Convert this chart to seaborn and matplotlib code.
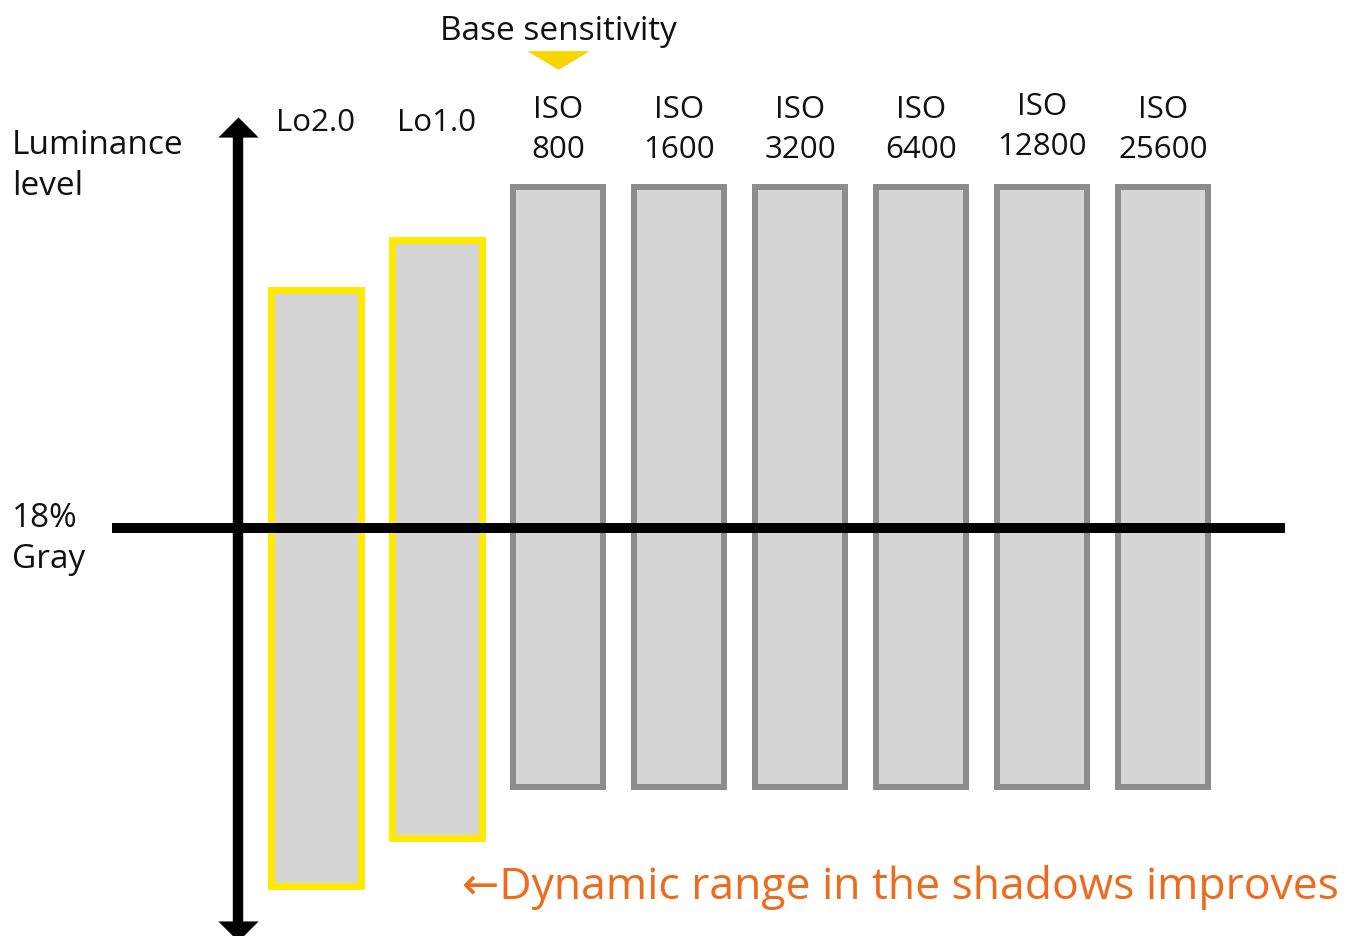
import pandas as pd
import matplotlib.pyplot as plt
import matplotlib.transforms as mtransforms
import seaborn as sns

# Sensitivity settings and the luminance range each one covers
# (0 = 18% gray, arbitrary units)
settings = ["Lo2.0", "Lo1.0", "ISO\n800", "ISO\n1600", "ISO\n3200",
            "ISO\n6400", "ISO\n12800", "ISO\n25600"]
range_top = [2.38, 2.88, 3.41, 3.41, 3.41, 3.41, 3.41, 3.41]
range_bottom = [-3.58, -3.10, -2.59, -2.59, -2.59, -2.59, -2.59, -2.59]
extended = [True, True, False, False, False, False, False, False]
base_setting = "ISO\n800"

df = pd.DataFrame({"setting": settings, "top": range_top,
                   "bottom": range_bottom, "extended": extended})

sns.set_style("white")
plt.rcParams["font.family"] = ["Open Sans", "DejaVu Sans"]

FILL = "#d6d6d6"
EDGE_GRAY = "#8c8c8c"
EDGE_YELLOW = "#ffea00"
MARK_YELLOW = "#f7d600"
ORANGE = "#ee6a1c"
INK = "#111111"

fig = plt.figure(figsize=(13.62, 9.37), dpi=100)
ax = fig.add_axes([0, 0, 1, 1])

# upper and lower part of every range, split at the 18% gray line
sns.barplot(data=df, x="setting", y="top", color=FILL, saturation=1,
            width=0.74, linewidth=5, ax=ax)
sns.barplot(data=df, x="setting", y="bottom", color=FILL, saturation=1,
            width=0.74, linewidth=5, ax=ax)
n = len(df)
for i, patch in enumerate(ax.patches):
    ext = df["extended"].iloc[i % n]
    patch.set_edgecolor(EDGE_YELLOW if ext else EDGE_GRAY)
    patch.set_linewidth(5.0 if ext else 4.3)
    patch.set_joinstyle("miter")

ax.set_xlim(-316 / 121, (1362 - 316) / 121)
ax.set_ylim(-4.08, 5.29)
ax.set_axis_off()

# 18% gray reference line
ax.axhline(0, xmin=112 / 1362, xmax=1285 / 1362, color="black", lw=7.2,
           solid_capstyle="butt", zorder=5)

# luminance axis with arrowheads at both ends
ax_x = 238 / 1362
ax.plot([ax_x, ax_x], [1 - 130 / 937, 1 - 930 / 937], transform=ax.transAxes,
        color="black", lw=7.5, solid_capstyle="butt", zorder=5)
up = [(-1, -0.5), (1, -0.5), (0, 0.5)]
down = [(-1, 0.5), (1, 0.5), (0, -0.5)]
ax.plot([ax_x], [1 - 128 / 937], transform=ax.transAxes, marker=up,
        markersize=29, color="black", mew=0, zorder=6)
ax.plot([ax_x], [1 - 932 / 937], transform=ax.transAxes, marker=down,
        markersize=29, color="black", mew=0, zorder=6, clip_on=False)

# category labels above each bar
trans = mtransforms.blended_transform_factory(ax.transData, ax.transAxes)
for i, s in enumerate(df["setting"]):
    ypix = 123 if "\n" not in s else (127 if "12800" in s else 130)
    ax.text(i, 1 - ypix / 937, s, transform=trans, ha="center", va="center",
            fontsize=22.5, linespacing=1.4, color=INK)

# base sensitivity marker
bi = settings.index(base_setting)
ax.plot([bi], [1 - 61 / 937], transform=trans,
        marker=[(-1, 0.3), (1, 0.3), (0, -0.3)], markersize=45,
        color=MARK_YELLOW, mew=0)
ax.text(bi, 1 - 31 / 937, "Base sensitivity", transform=trans, ha="center",
        va="center", fontsize=24, color=INK)

fig.text(12 / 1362, 1 - 166 / 937, "Luminance\nlevel", ha="left", va="center",
         fontsize=24, linespacing=1.35, color=INK)
fig.text(12 / 1362, 1 - 539 / 937, "18%\nGray", ha="left", va="center",
         fontsize=24, linespacing=1.35, color=INK)
fig.text(462 / 1362, 1 - 888 / 937, "←Dynamic range in the shadows improves",
         ha="left", va="center", fontsize=32, color=ORANGE)

fig.savefig("out.png", dpi=100)
